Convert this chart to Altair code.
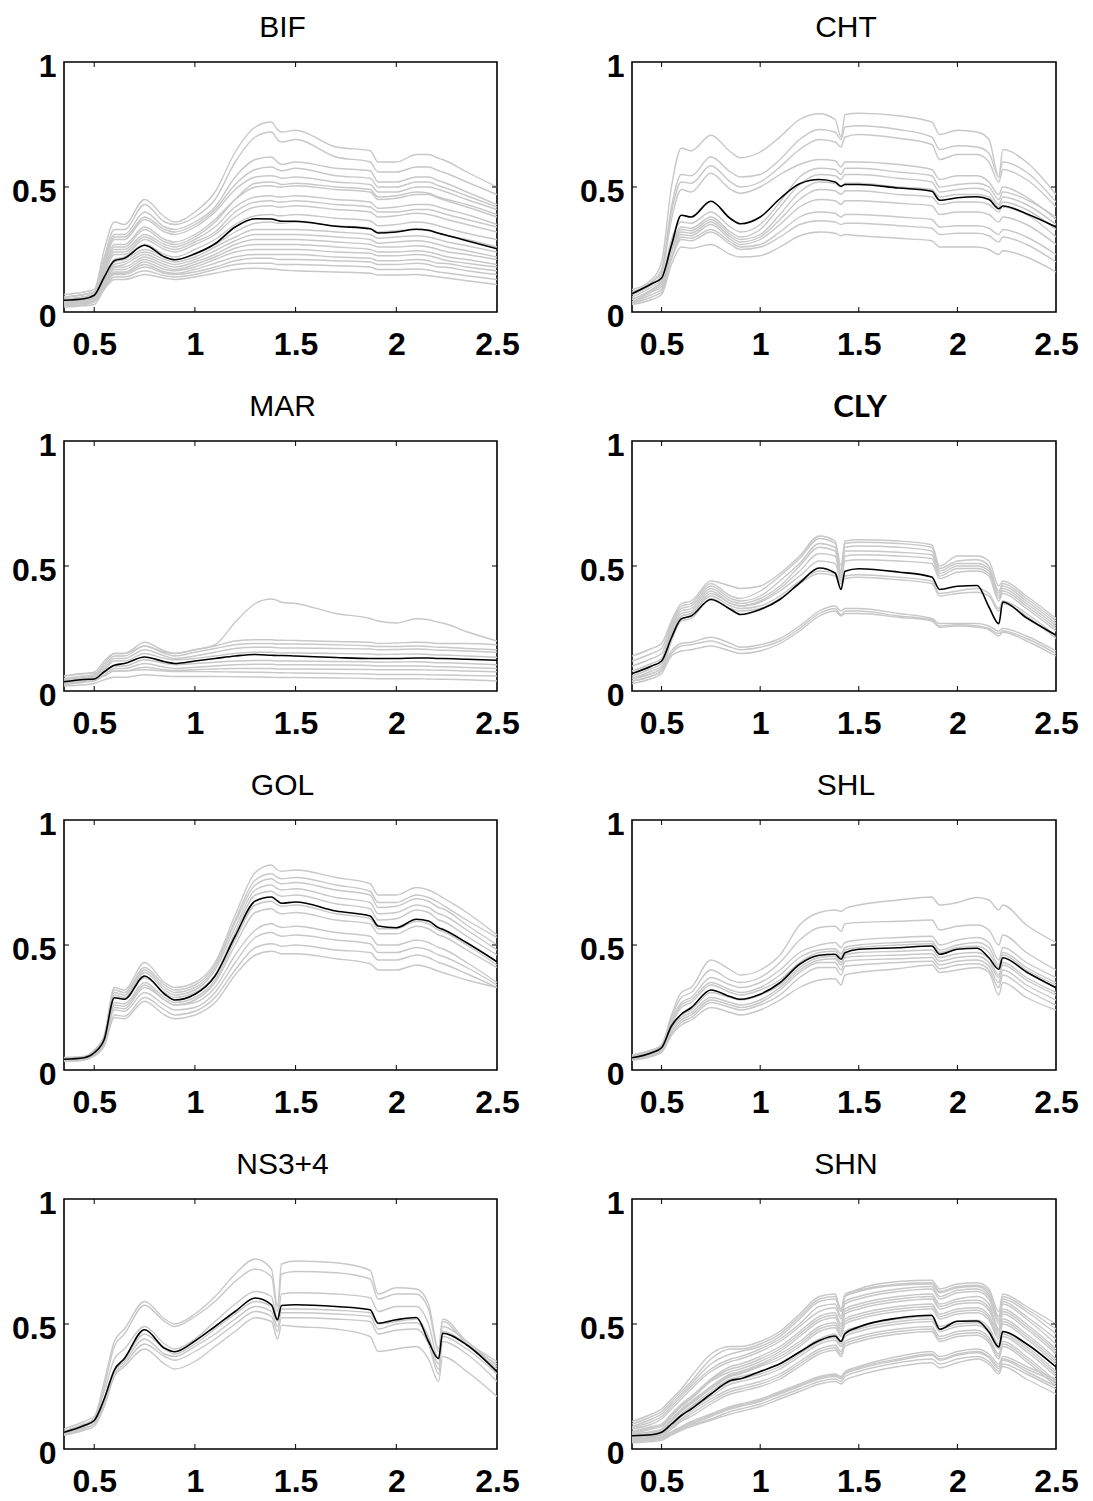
import altair as alt
import pandas as pd

# wavelength grid (micrometres)
W = [0.35, 0.45, 0.50, 0.55, 0.60, 0.65, 0.75, 0.85, 0.90, 1.00, 1.10, 1.20, 1.30, 1.38,
     1.41, 1.43, 1.50, 1.70, 1.87, 1.91, 2.00, 2.10, 2.16, 2.21, 2.23, 2.35, 2.50]

X_TICKS = [0.5, 1, 1.5, 2, 2.5]
Y_TICKS = [0, 0.5, 1]

# ---------------- BIF ----------------
BIF_MEAN = [0.047, 0.053, 0.067, 0.14, 0.205, 0.215, 0.267, 0.22, 0.209, 0.233, 0.273, 0.34, 0.373, 0.372,
            0.366, 0.363, 0.363, 0.343, 0.333, 0.316, 0.320, 0.331, 0.327, 0.315, 0.311, 0.285, 0.253]
BIF_GREY = [
    [0.07, 0.08, 0.09, 0.25, 0.36, 0.35, 0.45, 0.38, 0.36, 0.40, 0.48, 0.64, 0.74, 0.76, 0.73, 0.72, 0.727, 0.66, 0.645, 0.60, 0.60, 0.63, 0.63, 0.615, 0.61, 0.56, 0.50],
    [0.06, 0.07, 0.08, 0.22, 0.33, 0.33, 0.43, 0.36, 0.35, 0.38, 0.45, 0.60, 0.70, 0.72, 0.69, 0.68, 0.69, 0.62, 0.60, 0.56, 0.56, 0.58, 0.58, 0.565, 0.56, 0.52, 0.47],
    [0.06, 0.07, 0.08, 0.21, 0.31, 0.31, 0.40, 0.34, 0.33, 0.36, 0.42, 0.54, 0.61, 0.62, 0.60, 0.59, 0.60, 0.575, 0.565, 0.52, 0.52, 0.54, 0.54, 0.525, 0.52, 0.48, 0.43],
    [0.06, 0.07, 0.08, 0.20, 0.30, 0.30, 0.38, 0.33, 0.32, 0.35, 0.41, 0.51, 0.57, 0.58, 0.57, 0.565, 0.575, 0.545, 0.535, 0.50, 0.50, 0.52, 0.52, 0.505, 0.50, 0.465, 0.42],
    [0.05, 0.06, 0.07, 0.19, 0.29, 0.29, 0.37, 0.32, 0.31, 0.34, 0.40, 0.49, 0.54, 0.545, 0.54, 0.535, 0.54, 0.52, 0.51, 0.48, 0.48, 0.50, 0.50, 0.49, 0.485, 0.45, 0.41],
    [0.05, 0.06, 0.07, 0.17, 0.26, 0.26, 0.33, 0.28, 0.27, 0.30, 0.36, 0.45, 0.515, 0.52, 0.515, 0.51, 0.515, 0.50, 0.49, 0.46, 0.465, 0.48, 0.475, 0.46, 0.455, 0.43, 0.39],
    [0.05, 0.06, 0.07, 0.18, 0.27, 0.27, 0.34, 0.29, 0.28, 0.31, 0.37, 0.45, 0.50, 0.505, 0.50, 0.50, 0.505, 0.49, 0.48, 0.45, 0.455, 0.47, 0.47, 0.455, 0.45, 0.42, 0.38],
    [0.05, 0.06, 0.065, 0.16, 0.25, 0.25, 0.31, 0.27, 0.26, 0.29, 0.34, 0.42, 0.46, 0.465, 0.46, 0.46, 0.465, 0.45, 0.44, 0.415, 0.42, 0.43, 0.43, 0.42, 0.415, 0.39, 0.35],
    [0.045, 0.055, 0.065, 0.16, 0.24, 0.24, 0.30, 0.26, 0.25, 0.28, 0.32, 0.40, 0.44, 0.445, 0.44, 0.44, 0.445, 0.43, 0.42, 0.40, 0.40, 0.41, 0.41, 0.40, 0.395, 0.37, 0.34],
    [0.04, 0.05, 0.06, 0.15, 0.23, 0.23, 0.29, 0.25, 0.24, 0.27, 0.31, 0.38, 0.42, 0.425, 0.42, 0.42, 0.425, 0.41, 0.40, 0.38, 0.385, 0.395, 0.39, 0.38, 0.375, 0.35, 0.32],
    [0.05, 0.055, 0.065, 0.14, 0.21, 0.22, 0.27, 0.23, 0.22, 0.25, 0.29, 0.35, 0.385, 0.39, 0.385, 0.385, 0.39, 0.375, 0.365, 0.345, 0.35, 0.36, 0.355, 0.345, 0.34, 0.315, 0.29],
    [0.04, 0.05, 0.06, 0.13, 0.20, 0.21, 0.25, 0.22, 0.21, 0.23, 0.27, 0.32, 0.355, 0.36, 0.355, 0.355, 0.36, 0.345, 0.335, 0.32, 0.325, 0.33, 0.325, 0.315, 0.31, 0.29, 0.26],
    [0.04, 0.05, 0.06, 0.13, 0.19, 0.20, 0.24, 0.21, 0.20, 0.22, 0.26, 0.30, 0.33, 0.33, 0.33, 0.33, 0.33, 0.32, 0.31, 0.295, 0.30, 0.305, 0.30, 0.29, 0.285, 0.265, 0.24],
    [0.035, 0.045, 0.055, 0.12, 0.18, 0.19, 0.23, 0.20, 0.19, 0.21, 0.245, 0.285, 0.31, 0.31, 0.31, 0.31, 0.31, 0.30, 0.29, 0.275, 0.28, 0.285, 0.28, 0.27, 0.265, 0.245, 0.22],
    [0.04, 0.045, 0.055, 0.12, 0.18, 0.18, 0.22, 0.19, 0.18, 0.20, 0.23, 0.27, 0.29, 0.29, 0.29, 0.29, 0.29, 0.28, 0.27, 0.26, 0.26, 0.265, 0.26, 0.25, 0.245, 0.23, 0.21],
    [0.035, 0.04, 0.05, 0.11, 0.17, 0.17, 0.21, 0.18, 0.17, 0.19, 0.22, 0.255, 0.27, 0.27, 0.27, 0.27, 0.27, 0.26, 0.25, 0.24, 0.24, 0.245, 0.24, 0.23, 0.225, 0.21, 0.19],
    [0.035, 0.04, 0.05, 0.11, 0.16, 0.16, 0.20, 0.17, 0.165, 0.18, 0.21, 0.24, 0.25, 0.25, 0.25, 0.25, 0.25, 0.24, 0.235, 0.225, 0.225, 0.23, 0.225, 0.215, 0.21, 0.195, 0.18],
    [0.03, 0.035, 0.045, 0.10, 0.155, 0.155, 0.19, 0.16, 0.155, 0.17, 0.195, 0.22, 0.23, 0.23, 0.23, 0.23, 0.23, 0.22, 0.215, 0.205, 0.205, 0.21, 0.205, 0.195, 0.195, 0.18, 0.165],
    [0.03, 0.035, 0.045, 0.10, 0.15, 0.15, 0.18, 0.155, 0.15, 0.16, 0.18, 0.205, 0.215, 0.215, 0.21, 0.21, 0.21, 0.205, 0.20, 0.19, 0.19, 0.195, 0.19, 0.18, 0.18, 0.165, 0.15],
    [0.025, 0.03, 0.04, 0.095, 0.14, 0.14, 0.165, 0.145, 0.14, 0.15, 0.17, 0.19, 0.195, 0.195, 0.19, 0.19, 0.19, 0.185, 0.18, 0.17, 0.17, 0.172, 0.168, 0.16, 0.158, 0.145, 0.13],
    [0.02, 0.025, 0.03, 0.09, 0.13, 0.13, 0.15, 0.135, 0.13, 0.14, 0.155, 0.17, 0.175, 0.172, 0.17, 0.168, 0.165, 0.16, 0.155, 0.148, 0.148, 0.15, 0.145, 0.14, 0.138, 0.125, 0.11],
]

# ---------------- CHT ----------------
CHT_MEAN = [0.073, 0.113, 0.136, 0.267, 0.387, 0.38, 0.443, 0.373, 0.353, 0.38, 0.453, 0.513, 0.53, 0.52,
            0.503, 0.51, 0.51, 0.496, 0.483, 0.447, 0.457, 0.461, 0.45, 0.413, 0.424, 0.393, 0.34]
CHT_GREY = [
    [0.09, 0.13, 0.20, 0.50, 0.655, 0.645, 0.707, 0.64, 0.617, 0.64, 0.70, 0.77, 0.793, 0.77, 0.70, 0.79, 0.795, 0.785, 0.76, 0.71, 0.727, 0.72, 0.69, 0.54, 0.65, 0.60, 0.47],
    [0.08, 0.12, 0.17, 0.42, 0.55, 0.545, 0.62, 0.56, 0.54, 0.55, 0.61, 0.69, 0.73, 0.72, 0.69, 0.74, 0.745, 0.73, 0.70, 0.65, 0.665, 0.66, 0.635, 0.54, 0.60, 0.56, 0.44],
    [0.08, 0.12, 0.16, 0.40, 0.52, 0.515, 0.585, 0.52, 0.50, 0.52, 0.58, 0.65, 0.69, 0.68, 0.66, 0.70, 0.71, 0.695, 0.67, 0.61, 0.63, 0.63, 0.60, 0.52, 0.57, 0.53, 0.42],
    [0.07, 0.11, 0.15, 0.37, 0.49, 0.48, 0.555, 0.49, 0.475, 0.50, 0.55, 0.59, 0.61, 0.605, 0.58, 0.60, 0.60, 0.59, 0.57, 0.53, 0.545, 0.545, 0.52, 0.47, 0.50, 0.46, 0.37],
    [0.06, 0.10, 0.13, 0.29, 0.36, 0.355, 0.40, 0.34, 0.32, 0.35, 0.44, 0.54, 0.575, 0.57, 0.55, 0.575, 0.575, 0.56, 0.545, 0.50, 0.51, 0.515, 0.50, 0.45, 0.48, 0.45, 0.38],
    [0.05, 0.09, 0.12, 0.27, 0.34, 0.335, 0.38, 0.32, 0.30, 0.33, 0.42, 0.51, 0.55, 0.545, 0.53, 0.55, 0.55, 0.535, 0.52, 0.48, 0.49, 0.495, 0.48, 0.43, 0.46, 0.43, 0.35],
    [0.05, 0.09, 0.12, 0.26, 0.33, 0.325, 0.37, 0.31, 0.29, 0.31, 0.39, 0.48, 0.52, 0.515, 0.50, 0.515, 0.515, 0.50, 0.49, 0.46, 0.47, 0.47, 0.46, 0.42, 0.44, 0.41, 0.33],
    [0.05, 0.085, 0.11, 0.25, 0.32, 0.315, 0.36, 0.30, 0.28, 0.30, 0.37, 0.45, 0.49, 0.485, 0.47, 0.485, 0.485, 0.47, 0.46, 0.43, 0.44, 0.44, 0.43, 0.40, 0.42, 0.39, 0.30],
    [0.04, 0.08, 0.10, 0.24, 0.31, 0.305, 0.35, 0.29, 0.27, 0.29, 0.35, 0.42, 0.45, 0.445, 0.43, 0.445, 0.445, 0.435, 0.425, 0.39, 0.40, 0.40, 0.39, 0.36, 0.38, 0.35, 0.27],
    [0.04, 0.07, 0.09, 0.22, 0.30, 0.295, 0.33, 0.28, 0.26, 0.27, 0.32, 0.38, 0.40, 0.395, 0.38, 0.39, 0.39, 0.38, 0.37, 0.34, 0.345, 0.345, 0.335, 0.31, 0.33, 0.30, 0.23],
    [0.035, 0.06, 0.08, 0.21, 0.29, 0.285, 0.32, 0.27, 0.25, 0.26, 0.30, 0.35, 0.365, 0.36, 0.35, 0.355, 0.355, 0.345, 0.335, 0.31, 0.315, 0.315, 0.305, 0.28, 0.30, 0.27, 0.20],
    [0.03, 0.05, 0.07, 0.19, 0.26, 0.255, 0.27, 0.23, 0.22, 0.225, 0.26, 0.305, 0.32, 0.315, 0.305, 0.31, 0.305, 0.295, 0.285, 0.26, 0.26, 0.26, 0.25, 0.23, 0.245, 0.22, 0.16],
]

# ---------------- MAR ----------------
MAR_MEAN = [0.037, 0.046, 0.048, 0.077, 0.103, 0.11, 0.136, 0.117, 0.11, 0.12, 0.13, 0.14, 0.146, 0.143,
            0.142, 0.142, 0.14, 0.134, 0.13, 0.13, 0.13, 0.132, 0.132, 0.13, 0.13, 0.127, 0.123]
MAR_GREY = [
    [0.06, 0.07, 0.075, 0.12, 0.15, 0.15, 0.18, 0.155, 0.15, 0.165, 0.185, 0.275, 0.35, 0.368, 0.362, 0.355, 0.35, 0.31, 0.29, 0.28, 0.272, 0.289, 0.285, 0.275, 0.272, 0.237, 0.20],
    [0.05, 0.06, 0.065, 0.11, 0.15, 0.15, 0.195, 0.16, 0.15, 0.165, 0.18, 0.20, 0.205, 0.205, 0.203, 0.203, 0.202, 0.198, 0.195, 0.19, 0.192, 0.195, 0.194, 0.19, 0.19, 0.19, 0.185],
    [0.045, 0.055, 0.06, 0.10, 0.14, 0.14, 0.18, 0.15, 0.14, 0.155, 0.17, 0.185, 0.19, 0.19, 0.188, 0.188, 0.188, 0.185, 0.18, 0.178, 0.178, 0.18, 0.178, 0.175, 0.175, 0.17, 0.165],
    [0.04, 0.05, 0.055, 0.09, 0.13, 0.13, 0.165, 0.14, 0.13, 0.14, 0.155, 0.17, 0.175, 0.175, 0.173, 0.172, 0.172, 0.17, 0.168, 0.165, 0.166, 0.168, 0.166, 0.163, 0.163, 0.16, 0.155],
    [0.035, 0.045, 0.05, 0.085, 0.12, 0.12, 0.15, 0.13, 0.125, 0.13, 0.14, 0.15, 0.155, 0.155, 0.153, 0.152, 0.152, 0.15, 0.148, 0.146, 0.147, 0.148, 0.146, 0.144, 0.144, 0.14, 0.135],
    [0.03, 0.04, 0.045, 0.075, 0.10, 0.10, 0.125, 0.11, 0.105, 0.11, 0.115, 0.12, 0.122, 0.122, 0.12, 0.12, 0.12, 0.118, 0.117, 0.115, 0.116, 0.117, 0.115, 0.113, 0.113, 0.11, 0.105],
    [0.025, 0.035, 0.04, 0.065, 0.09, 0.09, 0.11, 0.095, 0.09, 0.095, 0.10, 0.105, 0.107, 0.107, 0.105, 0.105, 0.105, 0.104, 0.102, 0.10, 0.10, 0.10, 0.099, 0.097, 0.097, 0.094, 0.09],
    [0.03, 0.04, 0.045, 0.06, 0.08, 0.08, 0.095, 0.085, 0.082, 0.085, 0.088, 0.09, 0.09, 0.09, 0.088, 0.088, 0.088, 0.087, 0.086, 0.085, 0.085, 0.085, 0.084, 0.083, 0.083, 0.08, 0.077],
    [0.06, 0.07, 0.072, 0.075, 0.08, 0.08, 0.085, 0.08, 0.078, 0.078, 0.077, 0.076, 0.075, 0.074, 0.073, 0.073, 0.072, 0.07, 0.068, 0.066, 0.066, 0.066, 0.065, 0.064, 0.064, 0.062, 0.06],
    [0.02, 0.025, 0.03, 0.045, 0.055, 0.055, 0.065, 0.06, 0.058, 0.058, 0.058, 0.057, 0.056, 0.055, 0.054, 0.054, 0.054, 0.052, 0.05, 0.049, 0.049, 0.049, 0.048, 0.047, 0.047, 0.045, 0.04],
]

# ---------------- CLY ----------------
CLY_MEAN = [0.07, 0.10, 0.12, 0.213, 0.289, 0.30, 0.366, 0.326, 0.306, 0.326, 0.366, 0.432, 0.492, 0.472,
            0.406, 0.479, 0.489, 0.476, 0.456, 0.406, 0.419, 0.422, 0.336, 0.269, 0.356, 0.293, 0.223]
CLY_GREY = [
    [0.14, 0.17, 0.19, 0.28, 0.35, 0.36, 0.44, 0.42, 0.41, 0.42, 0.47, 0.54, 0.62, 0.60, 0.50, 0.60, 0.605, 0.60, 0.585, 0.50, 0.54, 0.54, 0.52, 0.42, 0.44, 0.38, 0.29],
    [0.12, 0.15, 0.17, 0.27, 0.34, 0.35, 0.43, 0.38, 0.37, 0.40, 0.46, 0.53, 0.61, 0.59, 0.48, 0.59, 0.595, 0.59, 0.575, 0.49, 0.52, 0.525, 0.50, 0.40, 0.43, 0.37, 0.28],
    [0.10, 0.13, 0.15, 0.26, 0.33, 0.34, 0.42, 0.37, 0.36, 0.38, 0.44, 0.51, 0.59, 0.575, 0.47, 0.575, 0.58, 0.575, 0.56, 0.48, 0.51, 0.51, 0.49, 0.39, 0.42, 0.36, 0.27],
    [0.08, 0.11, 0.13, 0.25, 0.32, 0.33, 0.41, 0.36, 0.35, 0.37, 0.42, 0.50, 0.575, 0.56, 0.46, 0.56, 0.56, 0.555, 0.545, 0.47, 0.50, 0.50, 0.48, 0.38, 0.41, 0.35, 0.26],
    [0.06, 0.09, 0.11, 0.24, 0.31, 0.32, 0.40, 0.35, 0.34, 0.36, 0.41, 0.48, 0.55, 0.54, 0.45, 0.54, 0.545, 0.54, 0.53, 0.46, 0.49, 0.49, 0.47, 0.37, 0.40, 0.34, 0.25],
    [0.05, 0.08, 0.10, 0.23, 0.30, 0.31, 0.39, 0.35, 0.34, 0.355, 0.40, 0.46, 0.52, 0.51, 0.44, 0.52, 0.525, 0.52, 0.51, 0.45, 0.475, 0.48, 0.46, 0.36, 0.39, 0.33, 0.24],
    [0.05, 0.07, 0.09, 0.22, 0.30, 0.31, 0.38, 0.34, 0.33, 0.34, 0.38, 0.44, 0.48, 0.47, 0.44, 0.46, 0.465, 0.455, 0.44, 0.39, 0.40, 0.41, 0.39, 0.33, 0.36, 0.31, 0.22],
    [0.04, 0.06, 0.08, 0.20, 0.28, 0.29, 0.37, 0.33, 0.32, 0.33, 0.37, 0.43, 0.47, 0.46, 0.43, 0.45, 0.455, 0.445, 0.43, 0.38, 0.39, 0.395, 0.38, 0.32, 0.35, 0.30, 0.21],
    [0.05, 0.07, 0.09, 0.16, 0.19, 0.195, 0.215, 0.19, 0.175, 0.185, 0.21, 0.26, 0.32, 0.34, 0.32, 0.33, 0.33, 0.31, 0.29, 0.27, 0.27, 0.27, 0.26, 0.24, 0.25, 0.22, 0.16],
    [0.04, 0.06, 0.08, 0.15, 0.18, 0.185, 0.20, 0.175, 0.165, 0.175, 0.20, 0.25, 0.31, 0.33, 0.305, 0.32, 0.32, 0.30, 0.285, 0.26, 0.265, 0.26, 0.25, 0.23, 0.24, 0.21, 0.15],
    [0.03, 0.05, 0.07, 0.14, 0.16, 0.165, 0.18, 0.16, 0.15, 0.16, 0.19, 0.24, 0.30, 0.32, 0.30, 0.31, 0.31, 0.295, 0.28, 0.255, 0.26, 0.255, 0.245, 0.22, 0.235, 0.20, 0.14],
]

# ---------------- GOL ----------------
GOL_MEAN = [0.043, 0.049, 0.069, 0.123, 0.289, 0.283, 0.376, 0.303, 0.28, 0.303, 0.376, 0.536, 0.676, 0.692,
            0.676, 0.667, 0.672, 0.636, 0.616, 0.576, 0.569, 0.603, 0.596, 0.569, 0.563, 0.509, 0.433]
GOL_GREY = [
    [0.05, 0.055, 0.08, 0.14, 0.33, 0.32, 0.43, 0.35, 0.33, 0.35, 0.43, 0.62, 0.79, 0.82, 0.80, 0.795, 0.80, 0.77, 0.745, 0.70, 0.70, 0.73, 0.72, 0.70, 0.69, 0.63, 0.54],
    [0.045, 0.05, 0.075, 0.13, 0.32, 0.31, 0.41, 0.34, 0.32, 0.34, 0.42, 0.60, 0.76, 0.785, 0.77, 0.765, 0.77, 0.74, 0.715, 0.67, 0.67, 0.70, 0.69, 0.67, 0.66, 0.60, 0.53],
    [0.045, 0.05, 0.075, 0.13, 0.31, 0.30, 0.40, 0.33, 0.31, 0.33, 0.41, 0.59, 0.74, 0.765, 0.75, 0.745, 0.75, 0.72, 0.70, 0.65, 0.655, 0.685, 0.675, 0.65, 0.645, 0.58, 0.50],
    [0.04, 0.05, 0.07, 0.125, 0.30, 0.29, 0.39, 0.32, 0.30, 0.32, 0.40, 0.57, 0.72, 0.74, 0.725, 0.72, 0.725, 0.69, 0.67, 0.625, 0.63, 0.66, 0.65, 0.625, 0.62, 0.56, 0.48],
    [0.04, 0.045, 0.07, 0.12, 0.29, 0.285, 0.37, 0.31, 0.29, 0.31, 0.38, 0.55, 0.70, 0.715, 0.70, 0.695, 0.70, 0.665, 0.645, 0.60, 0.605, 0.64, 0.63, 0.60, 0.595, 0.535, 0.46],
    [0.04, 0.045, 0.065, 0.115, 0.27, 0.265, 0.35, 0.29, 0.27, 0.29, 0.36, 0.52, 0.66, 0.675, 0.66, 0.655, 0.66, 0.625, 0.605, 0.565, 0.565, 0.595, 0.585, 0.56, 0.555, 0.50, 0.42],
    [0.04, 0.045, 0.065, 0.11, 0.25, 0.245, 0.33, 0.28, 0.26, 0.28, 0.35, 0.50, 0.63, 0.645, 0.63, 0.625, 0.63, 0.60, 0.585, 0.545, 0.545, 0.575, 0.565, 0.54, 0.535, 0.48, 0.41],
    [0.04, 0.045, 0.065, 0.11, 0.26, 0.255, 0.34, 0.28, 0.26, 0.27, 0.33, 0.46, 0.56, 0.585, 0.575, 0.57, 0.575, 0.55, 0.535, 0.50, 0.50, 0.52, 0.51, 0.49, 0.485, 0.43, 0.35],
    [0.04, 0.045, 0.06, 0.105, 0.24, 0.235, 0.31, 0.26, 0.24, 0.25, 0.31, 0.43, 0.53, 0.55, 0.54, 0.535, 0.54, 0.52, 0.505, 0.47, 0.47, 0.49, 0.48, 0.46, 0.455, 0.41, 0.34],
    [0.035, 0.04, 0.06, 0.10, 0.22, 0.215, 0.29, 0.24, 0.22, 0.235, 0.29, 0.40, 0.49, 0.505, 0.50, 0.495, 0.50, 0.48, 0.47, 0.44, 0.44, 0.46, 0.45, 0.43, 0.425, 0.385, 0.33],
    [0.035, 0.04, 0.055, 0.095, 0.21, 0.205, 0.275, 0.22, 0.205, 0.22, 0.27, 0.38, 0.46, 0.475, 0.47, 0.465, 0.465, 0.445, 0.425, 0.40, 0.40, 0.42, 0.41, 0.395, 0.39, 0.36, 0.33],
]

# ---------------- SHL ----------------
SHL_MEAN = [0.049, 0.069, 0.089, 0.176, 0.223, 0.249, 0.32, 0.293, 0.283, 0.303, 0.349, 0.423, 0.459, 0.463,
            0.443, 0.469, 0.483, 0.489, 0.496, 0.463, 0.483, 0.487, 0.449, 0.403, 0.449, 0.392, 0.329]
SHL_GREY = [
    [0.06, 0.08, 0.10, 0.22, 0.31, 0.33, 0.44, 0.40, 0.38, 0.40, 0.46, 0.58, 0.63, 0.64, 0.635, 0.645, 0.66, 0.68, 0.692, 0.66, 0.67, 0.69, 0.68, 0.64, 0.66, 0.58, 0.51],
    [0.06, 0.08, 0.10, 0.21, 0.29, 0.31, 0.40, 0.36, 0.35, 0.37, 0.43, 0.52, 0.57, 0.575, 0.555, 0.585, 0.59, 0.595, 0.60, 0.56, 0.575, 0.58, 0.56, 0.50, 0.54, 0.47, 0.40],
    [0.055, 0.075, 0.095, 0.20, 0.27, 0.29, 0.37, 0.34, 0.33, 0.35, 0.40, 0.47, 0.50, 0.51, 0.49, 0.51, 0.52, 0.53, 0.535, 0.50, 0.52, 0.53, 0.51, 0.44, 0.49, 0.43, 0.37],
    [0.05, 0.07, 0.09, 0.19, 0.26, 0.28, 0.35, 0.32, 0.31, 0.33, 0.38, 0.45, 0.48, 0.485, 0.465, 0.49, 0.50, 0.51, 0.515, 0.48, 0.50, 0.51, 0.49, 0.42, 0.47, 0.41, 0.35],
    [0.05, 0.07, 0.09, 0.18, 0.25, 0.27, 0.34, 0.31, 0.30, 0.32, 0.36, 0.43, 0.47, 0.475, 0.45, 0.48, 0.49, 0.50, 0.505, 0.47, 0.49, 0.495, 0.47, 0.41, 0.46, 0.40, 0.34],
    [0.045, 0.065, 0.085, 0.17, 0.22, 0.24, 0.31, 0.29, 0.28, 0.30, 0.34, 0.41, 0.45, 0.455, 0.43, 0.46, 0.47, 0.475, 0.48, 0.45, 0.465, 0.47, 0.445, 0.38, 0.43, 0.37, 0.31],
    [0.045, 0.06, 0.08, 0.16, 0.21, 0.23, 0.29, 0.27, 0.26, 0.28, 0.33, 0.40, 0.44, 0.445, 0.42, 0.45, 0.455, 0.46, 0.465, 0.435, 0.45, 0.455, 0.43, 0.37, 0.42, 0.36, 0.30],
    [0.04, 0.06, 0.08, 0.15, 0.20, 0.22, 0.28, 0.26, 0.25, 0.27, 0.32, 0.39, 0.43, 0.43, 0.40, 0.435, 0.44, 0.445, 0.45, 0.42, 0.435, 0.44, 0.415, 0.35, 0.40, 0.34, 0.28],
    [0.04, 0.055, 0.075, 0.14, 0.19, 0.21, 0.27, 0.25, 0.24, 0.26, 0.30, 0.37, 0.41, 0.41, 0.38, 0.415, 0.42, 0.43, 0.435, 0.405, 0.42, 0.425, 0.40, 0.33, 0.38, 0.32, 0.26],
    [0.04, 0.055, 0.07, 0.14, 0.18, 0.20, 0.25, 0.23, 0.22, 0.24, 0.28, 0.33, 0.36, 0.365, 0.34, 0.38, 0.39, 0.405, 0.42, 0.39, 0.40, 0.41, 0.39, 0.30, 0.35, 0.29, 0.24],
]

# ---------------- NS3+4 ----------------
NS_MEAN = [0.067, 0.094, 0.114, 0.201, 0.315, 0.362, 0.477, 0.403, 0.389, 0.432, 0.49, 0.55, 0.604, 0.577,
           0.517, 0.574, 0.577, 0.57, 0.557, 0.503, 0.517, 0.526, 0.43, 0.362, 0.463, 0.416, 0.309]
NS_GREY = [
    [0.08, 0.11, 0.13, 0.27, 0.43, 0.48, 0.59, 0.52, 0.50, 0.54, 0.61, 0.70, 0.76, 0.72, 0.57, 0.74, 0.752, 0.745, 0.715, 0.62, 0.645, 0.64, 0.58, 0.40, 0.52, 0.43, 0.35],
    [0.07, 0.10, 0.12, 0.25, 0.41, 0.46, 0.575, 0.51, 0.49, 0.53, 0.59, 0.67, 0.72, 0.69, 0.55, 0.70, 0.71, 0.705, 0.68, 0.60, 0.62, 0.62, 0.56, 0.39, 0.51, 0.42, 0.34],
    [0.07, 0.10, 0.12, 0.23, 0.36, 0.40, 0.49, 0.42, 0.40, 0.44, 0.51, 0.58, 0.63, 0.61, 0.52, 0.62, 0.625, 0.62, 0.605, 0.55, 0.57, 0.57, 0.50, 0.36, 0.49, 0.43, 0.33],
    [0.065, 0.09, 0.11, 0.20, 0.32, 0.36, 0.46, 0.40, 0.38, 0.42, 0.48, 0.54, 0.59, 0.57, 0.51, 0.56, 0.56, 0.555, 0.545, 0.50, 0.51, 0.52, 0.45, 0.34, 0.47, 0.42, 0.32],
    [0.06, 0.085, 0.10, 0.19, 0.31, 0.35, 0.44, 0.38, 0.37, 0.41, 0.46, 0.52, 0.57, 0.55, 0.49, 0.545, 0.545, 0.54, 0.53, 0.48, 0.50, 0.505, 0.44, 0.32, 0.45, 0.40, 0.30],
    [0.06, 0.08, 0.10, 0.18, 0.30, 0.34, 0.42, 0.37, 0.355, 0.39, 0.44, 0.50, 0.55, 0.53, 0.47, 0.525, 0.525, 0.52, 0.51, 0.46, 0.475, 0.48, 0.42, 0.30, 0.43, 0.38, 0.27],
    [0.055, 0.075, 0.09, 0.17, 0.29, 0.33, 0.40, 0.34, 0.32, 0.35, 0.41, 0.47, 0.525, 0.51, 0.44, 0.495, 0.49, 0.48, 0.45, 0.39, 0.40, 0.41, 0.36, 0.27, 0.37, 0.31, 0.21],
]

# ---------------- SHN ----------------
SHN_MEAN = [0.053, 0.057, 0.067, 0.10, 0.134, 0.16, 0.22, 0.274, 0.281, 0.31, 0.341, 0.388, 0.434, 0.452,
            0.43, 0.461, 0.488, 0.524, 0.535, 0.479, 0.511, 0.512, 0.468, 0.408, 0.47, 0.421, 0.328]
SHN_GREY = [
    [0.11, 0.14, 0.16, 0.20, 0.24, 0.29, 0.38, 0.41, 0.41, 0.43, 0.47, 0.54, 0.61, 0.62, 0.55, 0.61, 0.64, 0.67, 0.675, 0.64, 0.66, 0.665, 0.64, 0.55, 0.62, 0.57, 0.50],
    [0.10, 0.13, 0.15, 0.19, 0.23, 0.27, 0.36, 0.40, 0.40, 0.42, 0.46, 0.53, 0.60, 0.61, 0.56, 0.62, 0.635, 0.66, 0.665, 0.63, 0.65, 0.655, 0.63, 0.53, 0.61, 0.56, 0.48],
    [0.09, 0.12, 0.14, 0.18, 0.22, 0.26, 0.34, 0.38, 0.39, 0.41, 0.45, 0.52, 0.59, 0.60, 0.55, 0.61, 0.63, 0.655, 0.66, 0.625, 0.645, 0.65, 0.62, 0.52, 0.60, 0.55, 0.46],
    [0.085, 0.11, 0.13, 0.17, 0.21, 0.25, 0.32, 0.36, 0.37, 0.40, 0.44, 0.50, 0.57, 0.58, 0.53, 0.59, 0.61, 0.64, 0.65, 0.61, 0.635, 0.64, 0.61, 0.51, 0.59, 0.53, 0.44],
    [0.08, 0.10, 0.12, 0.16, 0.20, 0.24, 0.31, 0.35, 0.36, 0.39, 0.43, 0.49, 0.55, 0.565, 0.52, 0.58, 0.60, 0.63, 0.64, 0.60, 0.625, 0.63, 0.60, 0.50, 0.58, 0.52, 0.42],
    [0.07, 0.09, 0.10, 0.14, 0.18, 0.21, 0.28, 0.33, 0.34, 0.37, 0.41, 0.47, 0.53, 0.545, 0.50, 0.56, 0.58, 0.61, 0.62, 0.58, 0.60, 0.61, 0.58, 0.48, 0.56, 0.50, 0.40],
    [0.065, 0.085, 0.095, 0.135, 0.175, 0.205, 0.275, 0.32, 0.33, 0.36, 0.40, 0.46, 0.52, 0.535, 0.49, 0.55, 0.57, 0.60, 0.61, 0.57, 0.59, 0.595, 0.565, 0.475, 0.55, 0.49, 0.39],
    [0.06, 0.08, 0.09, 0.13, 0.17, 0.20, 0.27, 0.31, 0.32, 0.35, 0.39, 0.45, 0.51, 0.525, 0.48, 0.54, 0.56, 0.59, 0.60, 0.56, 0.58, 0.585, 0.555, 0.47, 0.54, 0.48, 0.38],
    [0.06, 0.07, 0.08, 0.12, 0.16, 0.19, 0.25, 0.30, 0.31, 0.34, 0.38, 0.43, 0.49, 0.505, 0.47, 0.52, 0.54, 0.57, 0.58, 0.54, 0.56, 0.565, 0.535, 0.46, 0.52, 0.46, 0.36],
    [0.055, 0.065, 0.08, 0.115, 0.155, 0.185, 0.245, 0.295, 0.305, 0.335, 0.37, 0.42, 0.48, 0.495, 0.46, 0.51, 0.53, 0.56, 0.57, 0.53, 0.55, 0.555, 0.525, 0.45, 0.51, 0.45, 0.35],
    [0.05, 0.06, 0.075, 0.11, 0.15, 0.18, 0.24, 0.29, 0.30, 0.33, 0.36, 0.41, 0.47, 0.485, 0.45, 0.50, 0.52, 0.55, 0.56, 0.52, 0.54, 0.545, 0.515, 0.44, 0.50, 0.44, 0.34],
    [0.05, 0.06, 0.07, 0.10, 0.14, 0.17, 0.23, 0.28, 0.29, 0.31, 0.34, 0.39, 0.44, 0.46, 0.43, 0.47, 0.49, 0.52, 0.53, 0.49, 0.51, 0.515, 0.485, 0.42, 0.47, 0.41, 0.31],
    [0.045, 0.055, 0.065, 0.10, 0.135, 0.165, 0.22, 0.27, 0.28, 0.30, 0.33, 0.38, 0.43, 0.445, 0.42, 0.46, 0.48, 0.51, 0.52, 0.48, 0.50, 0.505, 0.475, 0.41, 0.46, 0.40, 0.30],
    [0.045, 0.055, 0.065, 0.095, 0.13, 0.16, 0.21, 0.26, 0.27, 0.29, 0.32, 0.37, 0.42, 0.435, 0.41, 0.45, 0.47, 0.50, 0.51, 0.47, 0.49, 0.495, 0.465, 0.40, 0.45, 0.39, 0.29],
    [0.04, 0.05, 0.06, 0.09, 0.12, 0.15, 0.20, 0.24, 0.25, 0.27, 0.30, 0.35, 0.40, 0.415, 0.39, 0.43, 0.45, 0.48, 0.49, 0.45, 0.47, 0.475, 0.445, 0.38, 0.43, 0.37, 0.27],
    [0.04, 0.05, 0.055, 0.085, 0.115, 0.14, 0.19, 0.23, 0.24, 0.26, 0.29, 0.34, 0.39, 0.405, 0.38, 0.42, 0.44, 0.47, 0.48, 0.44, 0.46, 0.465, 0.435, 0.37, 0.42, 0.36, 0.26],
    [0.04, 0.05, 0.055, 0.08, 0.11, 0.13, 0.18, 0.22, 0.23, 0.25, 0.28, 0.33, 0.38, 0.395, 0.37, 0.41, 0.43, 0.46, 0.47, 0.43, 0.45, 0.455, 0.425, 0.36, 0.41, 0.35, 0.25],
    [0.035, 0.045, 0.05, 0.07, 0.09, 0.11, 0.14, 0.17, 0.18, 0.20, 0.23, 0.26, 0.29, 0.30, 0.29, 0.31, 0.33, 0.37, 0.39, 0.37, 0.39, 0.40, 0.38, 0.34, 0.37, 0.33, 0.28],
    [0.03, 0.04, 0.045, 0.065, 0.088, 0.105, 0.135, 0.165, 0.175, 0.195, 0.225, 0.255, 0.285, 0.295, 0.285, 0.305, 0.325, 0.36, 0.38, 0.36, 0.38, 0.39, 0.37, 0.33, 0.36, 0.32, 0.27],
    [0.03, 0.04, 0.045, 0.065, 0.085, 0.10, 0.13, 0.16, 0.17, 0.19, 0.22, 0.25, 0.28, 0.29, 0.28, 0.30, 0.32, 0.355, 0.375, 0.355, 0.375, 0.385, 0.365, 0.32, 0.355, 0.31, 0.25],
    [0.03, 0.035, 0.04, 0.06, 0.08, 0.095, 0.12, 0.15, 0.16, 0.18, 0.21, 0.24, 0.27, 0.28, 0.27, 0.29, 0.31, 0.345, 0.36, 0.34, 0.36, 0.37, 0.35, 0.31, 0.34, 0.30, 0.24],
    [0.025, 0.03, 0.035, 0.055, 0.075, 0.09, 0.115, 0.14, 0.15, 0.17, 0.20, 0.23, 0.26, 0.27, 0.26, 0.275, 0.295, 0.33, 0.345, 0.325, 0.345, 0.36, 0.34, 0.30, 0.33, 0.28, 0.22],
]

PANELS = [
    ("BIF", BIF_MEAN, BIF_GREY),
    ("CHT", CHT_MEAN, CHT_GREY),
    ("MAR", MAR_MEAN, MAR_GREY),
    ("CLY", CLY_MEAN, CLY_GREY),
    ("GOL", GOL_MEAN, GOL_GREY),
    ("SHL", SHL_MEAN, SHL_GREY),
    ("NS3+4", NS_MEAN, NS_GREY),
    ("SHN", SHN_MEAN, SHN_GREY),
]

H = 250
GREY = "#c8c8c8"
TICK_LEN = 5
LABEL_FONT = "Liberation Sans, Arial, sans-serif"


def make_panel(idx, name, mean, greys):
    width = 433 if idx % 2 == 0 else 424
    rows = []
    for ci, g in enumerate(greys):
        for w, v in zip(W, g):
            rows.append({"w": w, "r": v, "c": "g%d" % ci})
    grey_df = pd.DataFrame(rows)
    mean_df = pd.DataFrame({"w": W, "r": mean})

    x_enc = alt.X(
        "w:Q",
        title=None,
        scale=alt.Scale(domain=[0.35, 2.5], nice=False, zero=False),
        axis=alt.Axis(
            values=X_TICKS, labelExpr="datum.value + ''", ticks=False, domain=False, grid=False,
            labelFont=LABEL_FONT, labelFontSize=32, labelFontWeight="bold",
            labelColor="black", labelPadding=17, labelFlush=False, labelOverlap=False,
        ),
    )
    y_enc = alt.Y(
        "r:Q",
        title=None,
        scale=alt.Scale(domain=[0, 1], nice=False, zero=False),
        axis=alt.Axis(
            values=Y_TICKS, labelExpr="datum.value + ''", ticks=False, domain=False, grid=False,
            labelFont=LABEL_FONT, labelFontSize=32, labelFontWeight="bold", labelColor="black",
            labelPadding=8, labelFlush=False, labelOverlap=False, labelBaseline="middle",
            labelOffset=4,
        ),
    )

    grey_layer = alt.Chart(grey_df).mark_line(
        color=GREY, strokeWidth=1.4, clip=True, interpolate="monotone"
    ).encode(x=x_enc, y=y_enc, detail="c:N")
    mean_layer = alt.Chart(mean_df).mark_line(
        color="black", strokeWidth=1.6, clip=True, interpolate="monotone"
    ).encode(x="w:Q", y="r:Q")

    xt = pd.DataFrame({"w": X_TICKS[:-1]})
    yt = pd.DataFrame({"r": Y_TICKS[1:-1]})
    tick_bottom = alt.Chart(xt).mark_rule(color="black", strokeWidth=1).encode(
        x="w:Q", y=alt.value(H), y2=alt.value(H - TICK_LEN)
    )
    tick_top = alt.Chart(xt).mark_rule(color="black", strokeWidth=1).encode(
        x="w:Q", y=alt.value(0), y2=alt.value(TICK_LEN)
    )
    tick_left = alt.Chart(yt).mark_rule(color="black", strokeWidth=1).encode(
        y="r:Q", x=alt.value(0), x2=alt.value(TICK_LEN)
    )
    tick_right = alt.Chart(yt).mark_rule(color="black", strokeWidth=1).encode(
        y="r:Q", x=alt.value(width), x2=alt.value(width - TICK_LEN)
    )

    title_df = pd.DataFrame({"t": [name]})
    if name == "CLY":
        title_layer = alt.Chart(title_df).mark_text(
            font="Lato, Open Sans, sans-serif", fontSize=31, fontWeight="bold", color="black",
            align="center", baseline="alphabetic",
        ).encode(text="t:N", x=alt.value(width / 2 + 16), y=alt.value(-24))
    else:
        title_layer = alt.Chart(title_df).mark_text(
            font=LABEL_FONT, fontSize=30, fontWeight="normal", color="black",
            align="center", baseline="alphabetic",
        ).encode(text="t:N", x=alt.value(width / 2 + 2), y=alt.value(-25))

    return alt.layer(
        grey_layer, mean_layer, tick_bottom, tick_top, tick_left, tick_right, title_layer
    ).properties(width=width, height=H)


charts = [make_panel(i, n, m, g) for i, (n, m, g) in enumerate(PANELS)]

chart = alt.concat(
    *charts, columns=2, spacing=alt.RowColnumber(row=129, column=135), bounds="flush"
).properties(
    padding={"left": 10, "top": 12, "right": 5, "bottom": 5}, background="white"
).configure_view(stroke="black", strokeWidth=1.6)

chart.save("out.html", embed_options={"renderer": "svg", "actions": False})
